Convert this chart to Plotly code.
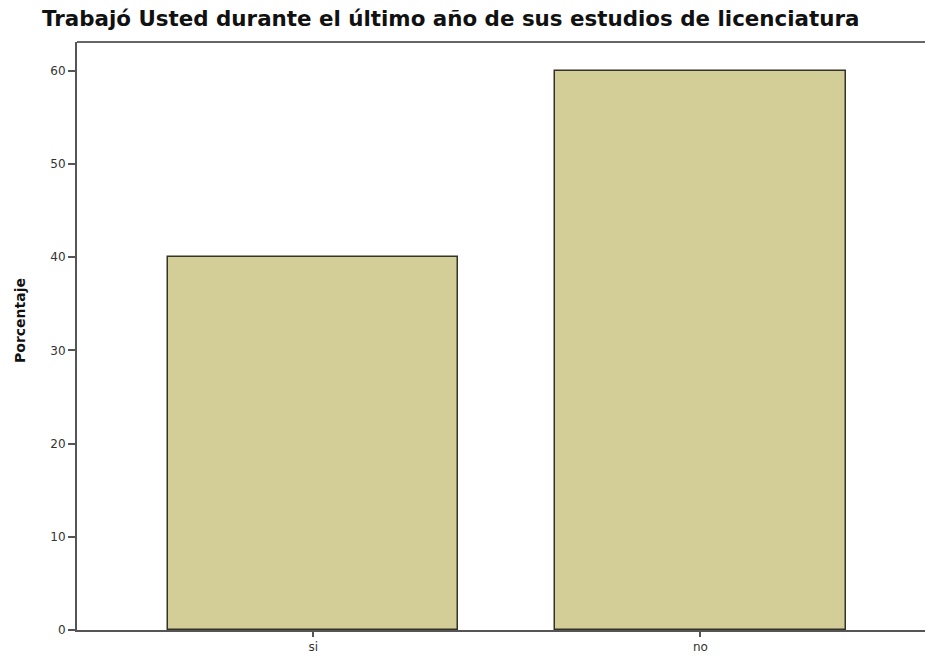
import plotly.graph_objects as go

categories = ["si", "no"]
porcentaje = [40, 60]
y_ticks = [0, 10, 20, 30, 40, 50, 60]

W, H = 925, 660

fig = go.Figure()
fig.add_trace(go.Bar(x=categories, y=porcentaje, width=0.75,
                     marker=dict(color="#D3CE97", line=dict(color="#333328", width=1.5))))

fig.update_layout(
    width=W, height=H,
    margin=dict(l=77, r=0, t=42, b=30, autoexpand=False),
    plot_bgcolor="white", paper_bgcolor="white",
    font=dict(family="DejaVu Sans", size=12, color="#222"),
    title=dict(text="<b>Trabajó Usted durante el último año de sus estudios de licenciatura</b>",
               x=42 / W, xanchor="left", y=1 - 19 / H, yanchor="middle",
               font=dict(size=21.4, color="#111")),
    showlegend=False,
    bargap=0,
)
fig.update_xaxes(range=[-0.61, 1.58], showline=True, linecolor="#555", linewidth=2,
                 ticks="outside", ticklen=5, tickcolor="#555", tickwidth=1.5,
                 showgrid=False, automargin=False, tickfont=dict(size=12, color="#333"))
fig.update_yaxes(range=[0, 63.1], tickvals=y_ticks, showline=True, linecolor="#555", linewidth=2,
                 ticks="outside", ticklen=7, tickcolor="#555", tickwidth=1.5,
                 showgrid=False, zeroline=False, automargin=False,
                 tickfont=dict(size=12, color="#333"))
# y axis title placed where the reference has it
fig.add_annotation(text="<b>Porcentaje</b>", xref="paper", yref="paper",
                   x=-(77 - 20) / (W - 77), xanchor="center", y=(630 - 321) / 588, yanchor="middle",
                   textangle=-90, showarrow=False, font=dict(size=14, color="#111"))
# top frame line
fig.add_shape(type="line", xref="paper", yref="paper", x0=0, x1=1, y0=1, y1=1,
              line=dict(color="#666", width=2))

# drop the page's default body margin so the figure fills the window
fig.write_html("out.html", config={"displayModeBar": False},
               post_script="document.body.style.margin='0';")
